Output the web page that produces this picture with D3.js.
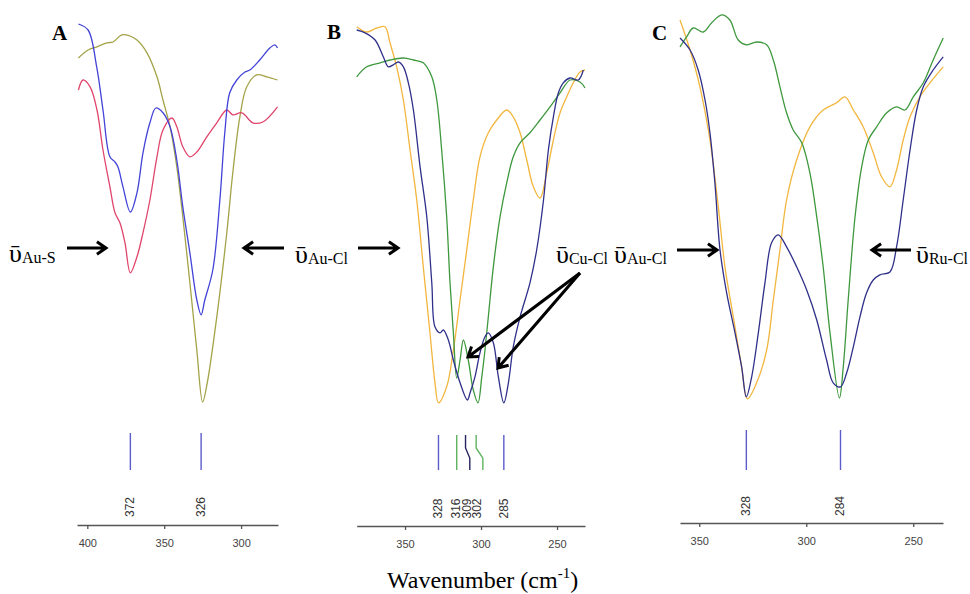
<!DOCTYPE html>
<html><head><meta charset="utf-8">
<script src="https://cdn.jsdelivr.net/npm/d3@7"></script>
<style>body{margin:0;background:#fff}svg{display:block}</style>
</head><body>
<svg id="c" width="970" height="594"></svg>
<script>
// ---------- Data (wavenumber cm-1, relative transmittance %) ----------
const ticksA = [400, 350, 300];
const ticksB = [350, 300, 250];
const ticksC = [350, 300, 250];

const peaksA = [372, 326];
const peaksB = [328, 316, 309, 302, 285];
const peaksC = [328, 284];

const A_blue = [[405.8,99],[399.5,97.5],[393.9,88.3],[389.8,77.5],[385.3,65.8],[382,64.5],[380.1,63.3],[376.8,58.3],[372,52],[367.7,56.8],[363.8,66.8],[359.3,74.3],[355.4,78],[350.8,76.8],[346.2,73.3],[341.8,65],[337.9,53.3],[333.3,41.8],[328.8,30],[326,26.3],[323.6,30],[318.4,37.5],[313.8,55],[310.6,71.8],[307.4,81.8],[302.8,85],[297.5,87],[294.3,87.5],[287.9,90],[281.3,93],[278.1,93.8],[276.3,93]];
const A_red = [[405.8,82.5],[402.8,85],[398.2,83.3],[393.7,77.5],[389.8,67.5],[385.3,58.3],[382,51.8],[378.8,49.3],[375.5,44.3],[372,36.8],[367.7,40.8],[363.8,46.8],[359.3,55],[354.7,65.8],[350.8,72.5],[345,75.5],[341.8,73.3],[337.9,68.3],[333.3,65.8],[328.8,67],[322.3,70.8],[315.8,74.3],[309.3,77.5],[305.4,76.3],[299.5,76.8],[292.4,74.3],[285.9,74.5],[276.3,78.3]];
const A_olive = [[405.8,90.5],[399.5,92.5],[393.7,93.3],[387.2,94.3],[383.3,94.5],[377.5,96.3],[372.3,96],[367.7,95],[361.2,91.8],[354.7,85.8],[350.8,80],[346.2,73.3],[341.8,63.3],[337.9,50.8],[333.3,34.3],[328.8,17.5],[325,4.5],[322,9.3],[315.8,25.8],[309.3,46.8],[305.4,61.8],[300.8,75.8],[296.3,83.3],[289.8,86.3],[283.3,85.8],[276.3,85]];

const B_navy = [[381.8,97.5],[376.3,96.8],[369.7,95],[364.3,90.8],[361,88.3],[357.7,88.8],[354.4,89.5],[351.1,88.3],[347.8,84.3],[344.5,77.5],[340.1,63.3],[335.7,50.8],[332.4,34.3],[330.3,23.3],[327,21.8],[324.8,22.5],[321.5,20],[318.2,15],[313.8,9.3],[309,5],[307.2,6.8],[304,10.8],[300.7,16.8],[297.4,20.8],[295.2,21.8],[291.9,19.3],[288.6,10.8],[285,4.3],[282,9.3],[278.8,18.3],[274.3,25.8],[267.8,34.3],[263.4,42.5],[258.9,55],[255.7,67.5],[252.4,75.8],[249.1,81.8],[245.9,84.3],[241.4,85.5],[236,85],[232.7,87.5]];
const B_yellow = [[381.8,98.3],[375.2,97],[368.6,98],[363.2,98.3],[359.9,94.3],[355.5,88.3],[351.1,80],[346.7,67.5],[342.3,55],[338,38.3],[333.6,21.8],[330.3,9.3],[328,4.3],[322.6,8.3],[318.2,17.5],[313.8,30],[309.4,42.5],[305.1,55],[300.7,65.8],[295.2,71.8],[289.7,75],[283.1,77.5],[278.8,75.8],[274.3,71.8],[269.9,65],[265.6,58.3],[261.2,55.5],[256.8,61.8],[252.4,70],[248,76.8],[243.6,80.8],[239.3,84.3],[234.9,87],[231.6,87.5]];
const B_green = [[381.8,85.8],[375.2,88.3],[366.4,89.3],[359.9,90],[351.1,90.5],[344.5,90],[338,89.3],[332.4,85.8],[329.1,80],[325.9,67.5],[322.6,50.8],[320.4,34.3],[318.2,21.8],[316,10.5],[313.8,15],[311.6,20],[308.4,15],[305.1,7.5],[302,4.3],[299.5,10.8],[297.4,17.5],[295.2,25.8],[291.9,38.3],[287.5,50.8],[283.1,59.3],[278.8,65.8],[274.3,69.3],[267.8,71.8],[261.2,75],[254.6,78.3],[248,81.8],[241.4,85],[234.9,84.5],[231.6,83]];

const C_navy = [[359,95.5],[354.3,92.5],[350.5,87.5],[347.3,80],[345,71.8],[342.7,59.3],[340.3,42.5],[337.2,31.8],[333.3,21.8],[330.2,13.3],[328,5.8],[325.5,10.8],[322.4,21.8],[319.3,34.3],[316.2,44.3],[313.1,46.3],[309.2,43.3],[304.5,38.3],[299.8,32.5],[295.1,25],[290.5,15],[287.4,9.3],[284,8.3],[281.1,11.8],[278,18.3],[274.9,25.8],[271.8,31.8],[268.7,35],[265.6,36.3],[260.9,37],[257.8,43.3],[254.7,55],[251.5,67.5],[248.4,77.5],[245.3,83.3],[240.7,87.5],[236,90.8]];
const C_yellow = [[359,100],[354.3,92.5],[349.7,83.3],[345,70],[341.1,53.3],[338,38.3],[334.1,25.8],[330.2,13.3],[327.5,5.3],[323.2,9.3],[318.5,17.5],[315.4,30],[312.3,42.5],[309.2,55],[304.5,65],[298.3,73.3],[292.1,77.5],[285.8,79.3],[281.9,80.8],[278,77.5],[273.4,73.3],[268.7,66.8],[264.8,60.8],[260.9,58.3],[257.8,62.5],[254.7,70],[251.5,75.8],[246.9,80.8],[242.2,84.3],[236,88.3]];
const C_green = [[359,93.3],[355.9,95.8],[352.8,98],[348.1,97],[344.2,99.3],[339.5,101.3],[335.7,100],[331.8,95],[327.9,93.8],[323.2,94.5],[318.5,93.8],[315.4,90],[312.3,83.3],[309.2,76.8],[306.1,72.5],[302.1,69.3],[298.3,61.8],[295.1,50.8],[292.1,38.3],[288.9,21.8],[284.5,5.5],[282.7,13.3],[280.4,30],[277.2,50.8],[274.1,63.3],[271,70],[267.1,73.3],[262.4,76.8],[257.8,78.3],[253.9,77.5],[250,80.8],[245.3,84.3],[240.7,90],[236,95.5]];

// ---------- Styles ----------
const COL = {
  blue: "#4343d8", red: "#e0456c", olive: "#a3a347",
  navy: "#30308a", yellow: "#f2b63e", green: "#3e983e",
  markBlue: "#5b5bcc", markGreen: "#5fb35f", markNavy: "#24245e"
};
const serif = "'Liberation Serif','Times New Roman','DejaVu Serif',serif";
const sans = "'Liberation Sans',Arial,sans-serif";

const svg = d3.select("#c");
const y = d3.scaleLinear().domain([0, 100]).range([420, 20]);

function arrow(x1, y1, x2, y2) {
  const a = Math.atan2(y2 - y1, x2 - x1), L = 11, s = 0.6;
  const p = `M${x1},${y1}L${x2},${y2}M${x2 - L*Math.cos(a - s)},${y2 - L*Math.sin(a - s)}L${x2},${y2}L${x2 - L*Math.cos(a + s)},${y2 - L*Math.sin(a + s)}`;
  svg.append("path").attr("d", p).attr("fill", "none").attr("stroke", "#000")
    .attr("stroke-width", 3).attr("stroke-linejoin", "miter").attr("stroke-linecap", "butt");
}
function nuLabel(x, yb, sub) {
  const t = svg.append("text").attr("x", x).attr("y", yb).attr("font-family", serif).attr("fill", "#000");
  t.append("tspan").attr("font-size", 26).text("\u1FE1");
  t.append("tspan").attr("font-size", 16).attr("dy", 1).text(sub);
}

function panel(o) {
  const x = d3.scaleLinear().domain(o.dom).range(o.rng);
  const g = svg.append("g");
  const line = d3.line().x(d => x(d[0])).y(d => y(d[1])).curve(d3.curveCatmullRom.alpha(0.5));
  o.series.forEach(s => g.append("path").attr("d", line(s.data)).attr("fill", "none")
    .attr("stroke", s.color).attr("stroke-width", 1.3).attr("stroke-linejoin", "round"));

  const ax = g.append("g").attr("transform", `translate(0,${o.axisY})`)
    .call(d3.axisBottom(x).tickValues(o.ticks).tickSize(4).tickSizeOuter(0).tickPadding(10).tickFormat(d3.format("d")));
  ax.select(".domain").attr("stroke", "#555").attr("stroke-width", 1.3);
  ax.selectAll(".tick line").attr("stroke", "#555").attr("stroke-width", 1.3);
  ax.selectAll(".tick text").attr("font-family", sans).attr("font-size", 11).attr("fill", "#444");

  o.peaks.forEach((p, i) => {
    const m = o.marks[i];
    const xt = x(p + m.dt), xb = x(p + m.db);
    const y1 = o.mk[0], y2 = o.mk[1];
    const d = (m.dt === m.db) ? `M${xt},${y1}V${y2}`
      : `M${xt},${y1}V${y1 + (y2 - y1) * 0.37}L${xb},${y1 + (y2 - y1) * 0.66}V${y2}`;
    g.append("path").attr("d", d).attr("fill", "none").attr("stroke", m.c).attr("stroke-width", 1.4);
    g.append("text").attr("transform", `translate(${x(p) + (m.lx || 0)},${o.labY}) rotate(-90)`)
      .attr("text-anchor", "middle").attr("dominant-baseline", "central")
      .attr("font-family", sans).attr("font-size", 12).attr("fill", "#333").text(p);
  });

  svg.append("text").attr("x", o.letter[0]).attr("y", o.letter[1]).attr("font-family", serif)
    .attr("font-weight", "bold").attr("font-size", 21).text(o.name);
}

panel({
  name: "A", letter: [52, 40], dom: [406.7, 276], rng: [77, 278], axisY: 525, ticks: ticksA,
  series: [{data: A_olive, color: COL.olive}, {data: A_red, color: COL.red}, {data: A_blue, color: COL.blue}],
  peaks: peaksA, marks: [{c: COL.markBlue, dt: 0, db: 0}, {c: COL.markBlue, dt: 0, db: 0}],
  mk: [433, 470], labY: 507
});
panel({
  name: "B", letter: [327, 39], dom: [381.8, 231.6], rng: [356.7, 585], axisY: 526, ticks: ticksB,
  series: [{data: B_yellow, color: COL.yellow}, {data: B_green, color: COL.green}, {data: B_navy, color: COL.navy}],
  peaks: peaksB,
  marks: [{c: COL.markBlue, dt: 0, db: 0}, {c: COL.markGreen, dt: 0, db: 0, lx: -1},
          {c: COL.markNavy, dt: 1.2, db: -1.6, lx: -0.5}, {c: COL.markGreen, dt: 1.2, db: -3.2, lx: -0.5},
          {c: COL.markBlue, dt: 0, db: 0}],
  mk: [435, 470], labY: 508.5
});
panel({
  name: "C", letter: [652, 40], dom: [359, 236.1], rng: [680, 943], axisY: 523, ticks: ticksC,
  series: [{data: C_yellow, color: COL.yellow}, {data: C_green, color: COL.green}, {data: C_navy, color: COL.navy}],
  peaks: peaksC, marks: [{c: COL.markBlue, dt: 0, db: 0}, {c: COL.markBlue, dt: 0, db: 0}],
  mk: [430, 470], labY: 506
});

// ---------- Annotations ----------
nuLabel(9, 262, "Au-S");
arrow(67, 248, 106, 248);
arrow(284, 248, 244, 248);

nuLabel(295, 263, "Au-Cl");
arrow(358, 248, 398, 248);
nuLabel(556, 263, "Cu-Cl");
arrow(580, 273, 468, 357);
arrow(580, 273, 498, 368);

nuLabel(614, 263, "Au-Cl");
arrow(677, 250, 717, 250);
nuLabel(916, 263, "Ru-Cl");
arrow(911, 250, 872, 250);

// ---------- Axis title ----------
const tt = svg.append("text").attr("x", 387).attr("y", 588).attr("font-family", serif).attr("font-size", 24).attr("fill", "#000");
tt.append("tspan").text("Wavenumber (cm");
tt.append("tspan").attr("font-size", 15).attr("dy", -10).text("-1");
tt.append("tspan").attr("dy", 10).text(")");
</script>
</body></html>
